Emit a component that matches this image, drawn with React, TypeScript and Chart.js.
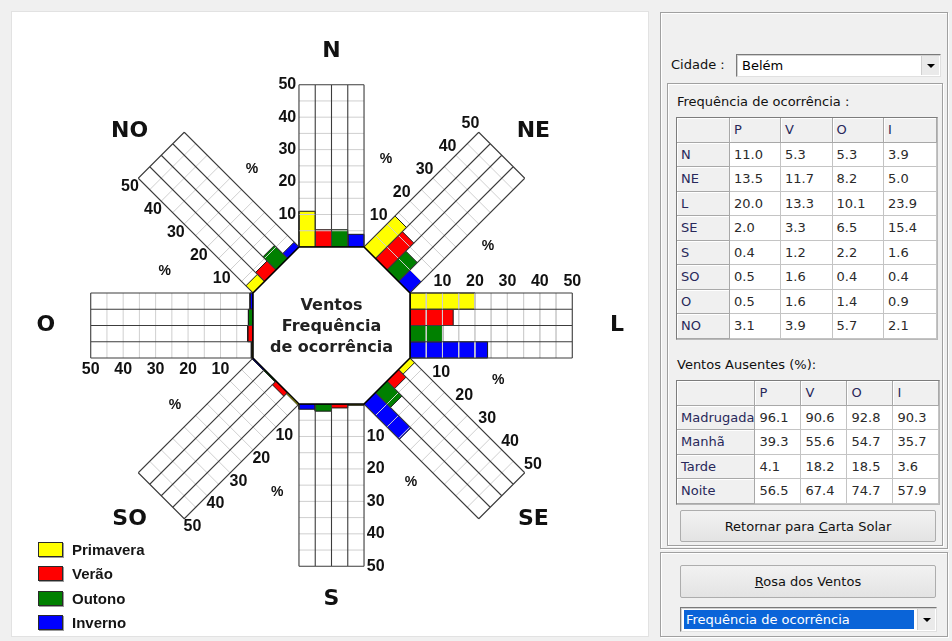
import React, { useEffect, useRef } from "react";
import { Chart, registerables } from "chart.js";

Chart.register(...registerables);

// ---------- data ----------
const directions = ["N", "NE", "L", "SE", "S", "SO", "O", "NO"];
const directionAngles = [0, 45, 90, 135, 180, 225, 270, 315];
const seasons = ["Primavera", "Verão", "Outono", "Inverno"];
const seasonKeys = ["P", "V", "O", "I"];
const seasonColors = ["#ffff00", "#ff0000", "#008000", "#0000ff"];
const freqP = [11.0, 13.5, 20.0, 2.0, 0.4, 0.5, 0.5, 3.1];
const freqV = [5.3, 11.7, 13.3, 3.3, 1.2, 1.6, 1.6, 3.9];
const freqO = [5.3, 8.2, 10.1, 6.5, 2.2, 0.4, 1.4, 5.7];
const freqI = [3.9, 5.0, 23.9, 15.4, 1.6, 0.4, 0.9, 2.1];
const axisTicks = [10, 20, 30, 40, 50];
const gridStep = 5;
const axisMax = 50;
const periods = ["Madrugada", "Manhã", "Tarde", "Noite"];
const absentP = [96.1, 39.3, 4.1, 56.5];
const absentV = [90.6, 55.6, 18.2, 67.4];
const absentO = [92.8, 54.7, 18.5, 74.7];
const absentI = [90.3, 35.7, 3.6, 57.9];
const cityName = "Belém";

const freqBySeason = [freqP, freqV, freqO, freqI];
const absentBySeason = [absentP, absentV, absentO, absentI];

// ---------- geometry (in % units) ----------
const K = 3.245; // px per percent
const APO = 24.2; // octagon apothem
const ARM_W = 2 * APO * Math.tan(Math.PI / 8);
const CANVAS_W = 636;
const CANVAS_H = 624;
const CX = 319.5;
const CY = 313.5;

function rot(u: number, v: number, deg: number) {
  const t = (deg * Math.PI) / 180;
  return { x: u * Math.cos(t) + v * Math.sin(t), y: -u * Math.sin(t) + v * Math.cos(t) };
}
const GAP = { x: NaN, y: NaN };

function buildDatasets() {
  const ds: any[] = [];
  directions.forEach((d, i) => {
    const ang = directionAngles[i];
    seasons.forEach((s, j) => {
      const val = freqBySeason[j][i];
      const u0 = -ARM_W / 2 + (j * ARM_W) / 4;
      const u1 = u0 + ARM_W / 4;
      ds.push({
        label: `${d} ${seasonKeys[j]}`,
        data: [rot(u0, APO, ang), rot(u1, APO, ang), rot(u1, APO + val, ang), rot(u0, APO + val, ang), rot(u0, APO, ang)],
        showLine: true,
        fill: "shape",
        backgroundColor: seasonColors[j],
        borderColor: "#1a1a1a",
        borderWidth: 1,
        pointRadius: 0,
        tension: 0,
        order: 40,
      });
    });
    const light: any[] = [];
    for (let v = gridStep; v < axisMax; v += gridStep) {
      light.push(rot(-ARM_W / 2, APO + v, ang), rot(ARM_W / 2, APO + v, ang), GAP);
    }
    ds.push({
      label: `${d} grid`,
      data: light,
      showLine: true,
      fill: false,
      borderColor: "#cfcfcf",
      borderWidth: 1,
      pointRadius: 0,
      spanGaps: false,
      order: 30,
    });
    const dark: any[] = [];
    for (let j = 0; j <= 4; j++) {
      const u = -ARM_W / 2 + (j * ARM_W) / 4;
      dark.push(rot(u, APO, ang), rot(u, APO + axisMax, ang), GAP);
    }
    dark.push(rot(-ARM_W / 2, APO + axisMax, ang), rot(ARM_W / 2, APO + axisMax, ang));
    ds.push({
      label: `${d} frame`,
      data: dark,
      showLine: true,
      fill: false,
      borderColor: "#3c3c3c",
      borderWidth: 1.1,
      pointRadius: 0,
      spanGaps: false,
      order: 20,
    });
  });
  const oct: any[] = directionAngles.map((a) => rot(-ARM_W / 2, APO, a));
  oct.push(oct[0]);
  ds.push({
    label: "octagon",
    data: oct,
    showLine: true,
    fill: "shape",
    backgroundColor: "#ffffff",
    borderColor: "#000000",
    borderWidth: 1.6,
    pointRadius: 0,
    order: 10,
  });
  return ds;
}

const roseText = {
  id: "roseText",
  afterDatasetsDraw(chart: any) {
    const { ctx } = chart;
    const xs = chart.scales.x;
    const ys = chart.scales.y;
    const P = (p: { x: number; y: number }) => [xs.getPixelForValue(p.x), ys.getPixelForValue(p.y)];
    ctx.save();
    ctx.textAlign = "center";
    ctx.textBaseline = "middle";
    directions.forEach((d, i) => {
      const ang = directionAngles[i];
      ctx.fillStyle = "#111";
      ctx.font = 'bold 16px "Liberation Sans", Arial, sans-serif';
      axisTicks.forEach((t) => {
        const [px, py] = P(rot(-ARM_W / 2 - 3.6, APO + t, ang));
        ctx.fillText(String(t), px, py);
      });
      ctx.font = 'bold 14px "Liberation Sans", Arial, sans-serif';
      const [qx, qy] = P(rot(-24.5, APO + 24, ang));
      ctx.fillText("%", qx, qy);
      const t = (ang * Math.PI) / 180;
      const [lx, ly] = P({ x: 88 * Math.sin(t), y: 84.5 * Math.cos(t) });
      ctx.font = 'bold 22px "DejaVu Sans", sans-serif';
      ctx.fillText(d, lx, ly);
    });
    const [cx, cy] = P({ x: 0, y: 0 });
    ctx.font = 'bold 16px "DejaVu Sans", sans-serif';
    ctx.fillStyle = "#222";
    ctx.fillText("Ventos", cx, cy - 20);
    ctx.fillText("Frequência", cx, cy + 1);
    ctx.fillText("de ocorrência", cx, cy + 22);
    ctx.restore();
  },
};

function Rose() {
  const ref = useRef<HTMLCanvasElement>(null);
  useEffect(() => {
    if (!ref.current) return;
    const chart = new Chart(ref.current, {
      type: "scatter",
      data: { datasets: buildDatasets() },
      options: {
        animation: false,
        responsive: false,
        events: [],
        layout: { padding: 0 },
        plugins: { legend: { display: false }, tooltip: { enabled: false } },
        scales: {
          x: { type: "linear", display: false, min: -CX / K, max: (CANVAS_W - CX) / K },
          y: { type: "linear", display: false, min: -(CANVAS_H - CY) / K, max: CY / K },
        },
      },
      plugins: [roseText],
    } as any);
    return () => chart.destroy();
  }, []);
  return <canvas ref={ref} width={CANVAS_W} height={CANVAS_H} style={{ display: "block", width: CANVAS_W, height: CANVAS_H }} />;
}

const UI = '"DejaVu Sans", Verdana, sans-serif';

function Frame({ left, top, width, height }: any) {
  return (
    <div
      style={{
        position: "absolute",
        left,
        top,
        width,
        height,
        boxSizing: "border-box",
        border: "1px solid #a0a0a0",
        boxShadow: "inset 1px 1px 0 #ffffff, 1px 1px 0 #ffffff",
      }}
    />
  );
}

function Combo({ left, top, width, height, text, selected }: any) {
  return (
    <div
      style={{
        position: "absolute",
        left,
        top,
        width,
        height,
        boxSizing: "border-box",
        background: "#fff",
        borderTop: "1px solid #7a7a7a",
        borderLeft: "1px solid #7a7a7a",
        borderRight: "1px solid #e0e0e0",
        borderBottom: "1px solid #e0e0e0",
        boxShadow: "inset 1px 1px 0 #d0d0d0",
      }}
    >
      <div
        style={{
          position: "absolute",
          left: 3,
          top: 2,
          right: 22,
          bottom: 2,
          background: selected ? "#0a64d8" : "transparent",
          color: selected ? "#fff" : "#000",
          font: `13px ${UI}`,
          lineHeight: `${height - 6}px`,
          paddingLeft: 2,
          whiteSpace: "nowrap",
          overflow: "hidden",
        }}
      >
        {text}
      </div>
      <div
        style={{
          position: "absolute",
          right: 1,
          top: 1,
          width: 18,
          bottom: 1,
          background: "#eaeaea",
          borderLeft: "1px solid #d0d0d0",
          boxSizing: "border-box",
        }}
      >
        <div
          style={{
            position: "absolute",
            left: 5,
            top: "50%",
            marginTop: -2,
            width: 0,
            height: 0,
            borderLeft: "4px solid transparent",
            borderRight: "4px solid transparent",
            borderTop: "4px solid #000",
          }}
        />
      </div>
    </div>
  );
}

function Button({ left, top, width, height, children }: any) {
  return (
    <div
      style={{
        position: "absolute",
        left,
        top,
        width,
        height,
        boxSizing: "border-box",
        border: "1px solid #adadad",
        background: "linear-gradient(#f2f2f2, #e3e3e3)",
        borderRadius: 2,
        font: `13px ${UI}`,
        color: "#111",
        display: "flex",
        alignItems: "center",
        justifyContent: "center",
      }}
    >
      {children}
    </div>
  );
}

function Grid({ left, top, colW, rowH, header, labels, values }: any) {
  const fixedCell: any = {
    background: "#f0f0f0",
    color: "#28285a",
    borderRight: "1px solid #a8a8a8",
    borderBottom: "1px solid #a8a8a8",
    boxShadow: "inset 1px 1px 0 #ffffff",
  };
  const dataCell: any = {
    background: "#fff",
    color: "#2a2a2a",
    borderRight: "1px solid #c4c4c4",
    borderBottom: "1px solid #c4c4c4",
  };
  const base: any = {
    boxSizing: "border-box",
    height: rowH,
    padding: "0 0 0 4px",
    font: `13px ${UI}`,
    whiteSpace: "nowrap",
    overflow: "hidden",
    textAlign: "left",
    verticalAlign: "middle",
  };
  return (
    <table
      style={{
        position: "absolute",
        left,
        top,
        borderCollapse: "separate",
        borderSpacing: 0,
        tableLayout: "fixed",
        border: "1px solid #7c7c7c",
        borderRight: "1px solid #b8b8b8",
        borderBottom: "1px solid #b8b8b8",
      }}
    >
      <colgroup>
        {colW.map((w: number, i: number) => (
          <col key={i} style={{ width: w }} />
        ))}
      </colgroup>
      <tbody>
        <tr>
          <td style={{ ...base, ...fixedCell }}></td>
          {header.map((h: string) => (
            <td key={h} style={{ ...base, ...fixedCell }}>
              {h}
            </td>
          ))}
        </tr>
        {labels.map((lab: string, r: number) => (
          <tr key={lab}>
            <td style={{ ...base, ...fixedCell }}>{lab}</td>
            {values.map((col: number[], c: number) => (
              <td key={c} style={{ ...base, ...dataCell }}>
                {col[r].toFixed(1)}
              </td>
            ))}
          </tr>
        ))}
      </tbody>
    </table>
  );
}

export default function App() {
  return (
    <div
      style={{
        position: "absolute",
        left: 0,
        top: 0,
        width: 952,
        height: 641,
        background: "#f0f0f0",
        overflow: "hidden",
        fontFamily: UI,
      }}
    >
      <div
        style={{
          position: "absolute",
          left: 12,
          top: 12,
          width: CANVAS_W,
          height: CANVAS_H,
          background: "#fff",
          outline: "1px solid #e2e2e2",
        }}
      >
        <Rose />
      </div>
      {seasons.map((s, i) => (
        <React.Fragment key={s}>
          <div
            style={{
              position: "absolute",
              left: 38,
              top: 542 + i * 24.4,
              width: 25,
              height: 15,
              boxSizing: "border-box",
              background: seasonColors[i],
              border: "1px solid #2a2a2a",
              boxShadow: "1px 1px 0 #9a9a9a",
            }}
          />
          <div
            style={{
              position: "absolute",
              left: 72,
              top: 541 + i * 24.4,
              font: 'bold 15px "Liberation Sans", Arial, sans-serif',
              color: "#151515",
              lineHeight: "17px",
            }}
          >
            {s}
          </div>
        </React.Fragment>
      ))}

      <Frame left={660} top={12} width={288} height={537} />
      <div style={{ position: "absolute", left: 671, top: 57, font: `13px ${UI}`, color: "#111" }}>Cidade :</div>
      <Combo left={736} top={54} width={205} height={23} text={cityName} />
      <Frame left={667} top={83} width={276} height={463} />
      <div style={{ position: "absolute", left: 677, top: 94, font: `13px ${UI}`, color: "#111" }}>
        Frequência de ocorrência :
      </div>
      <Grid
        left={676}
        top={117}
        colW={[53, 51, 51.5, 51.5, 53]}
        rowH={24.5}
        header={seasonKeys}
        labels={directions}
        values={freqBySeason}
      />
      <div style={{ position: "absolute", left: 677, top: 357, font: `13px ${UI}`, color: "#111" }}>
        Ventos Ausentes (%):
      </div>
      <Grid
        left={676}
        top={380}
        colW={[76, 46, 46, 46, 46]}
        rowH={24.5}
        header={seasonKeys}
        labels={periods}
        values={absentBySeason}
      />
      <Button left={680} top={510} width={256} height={32}>
        <span>
          Retornar para <u>C</u>arta Solar
        </span>
      </Button>
      <Frame left={660} top={552} width={288} height={85} />
      <Button left={680} top={565} width={256} height={33}>
        <span>
          <u>R</u>osa dos Ventos
        </span>
      </Button>
      <Combo left={680} top={607} width={257} height={25} text="Frequência de ocorrência" selected />
    </div>
  );
}
